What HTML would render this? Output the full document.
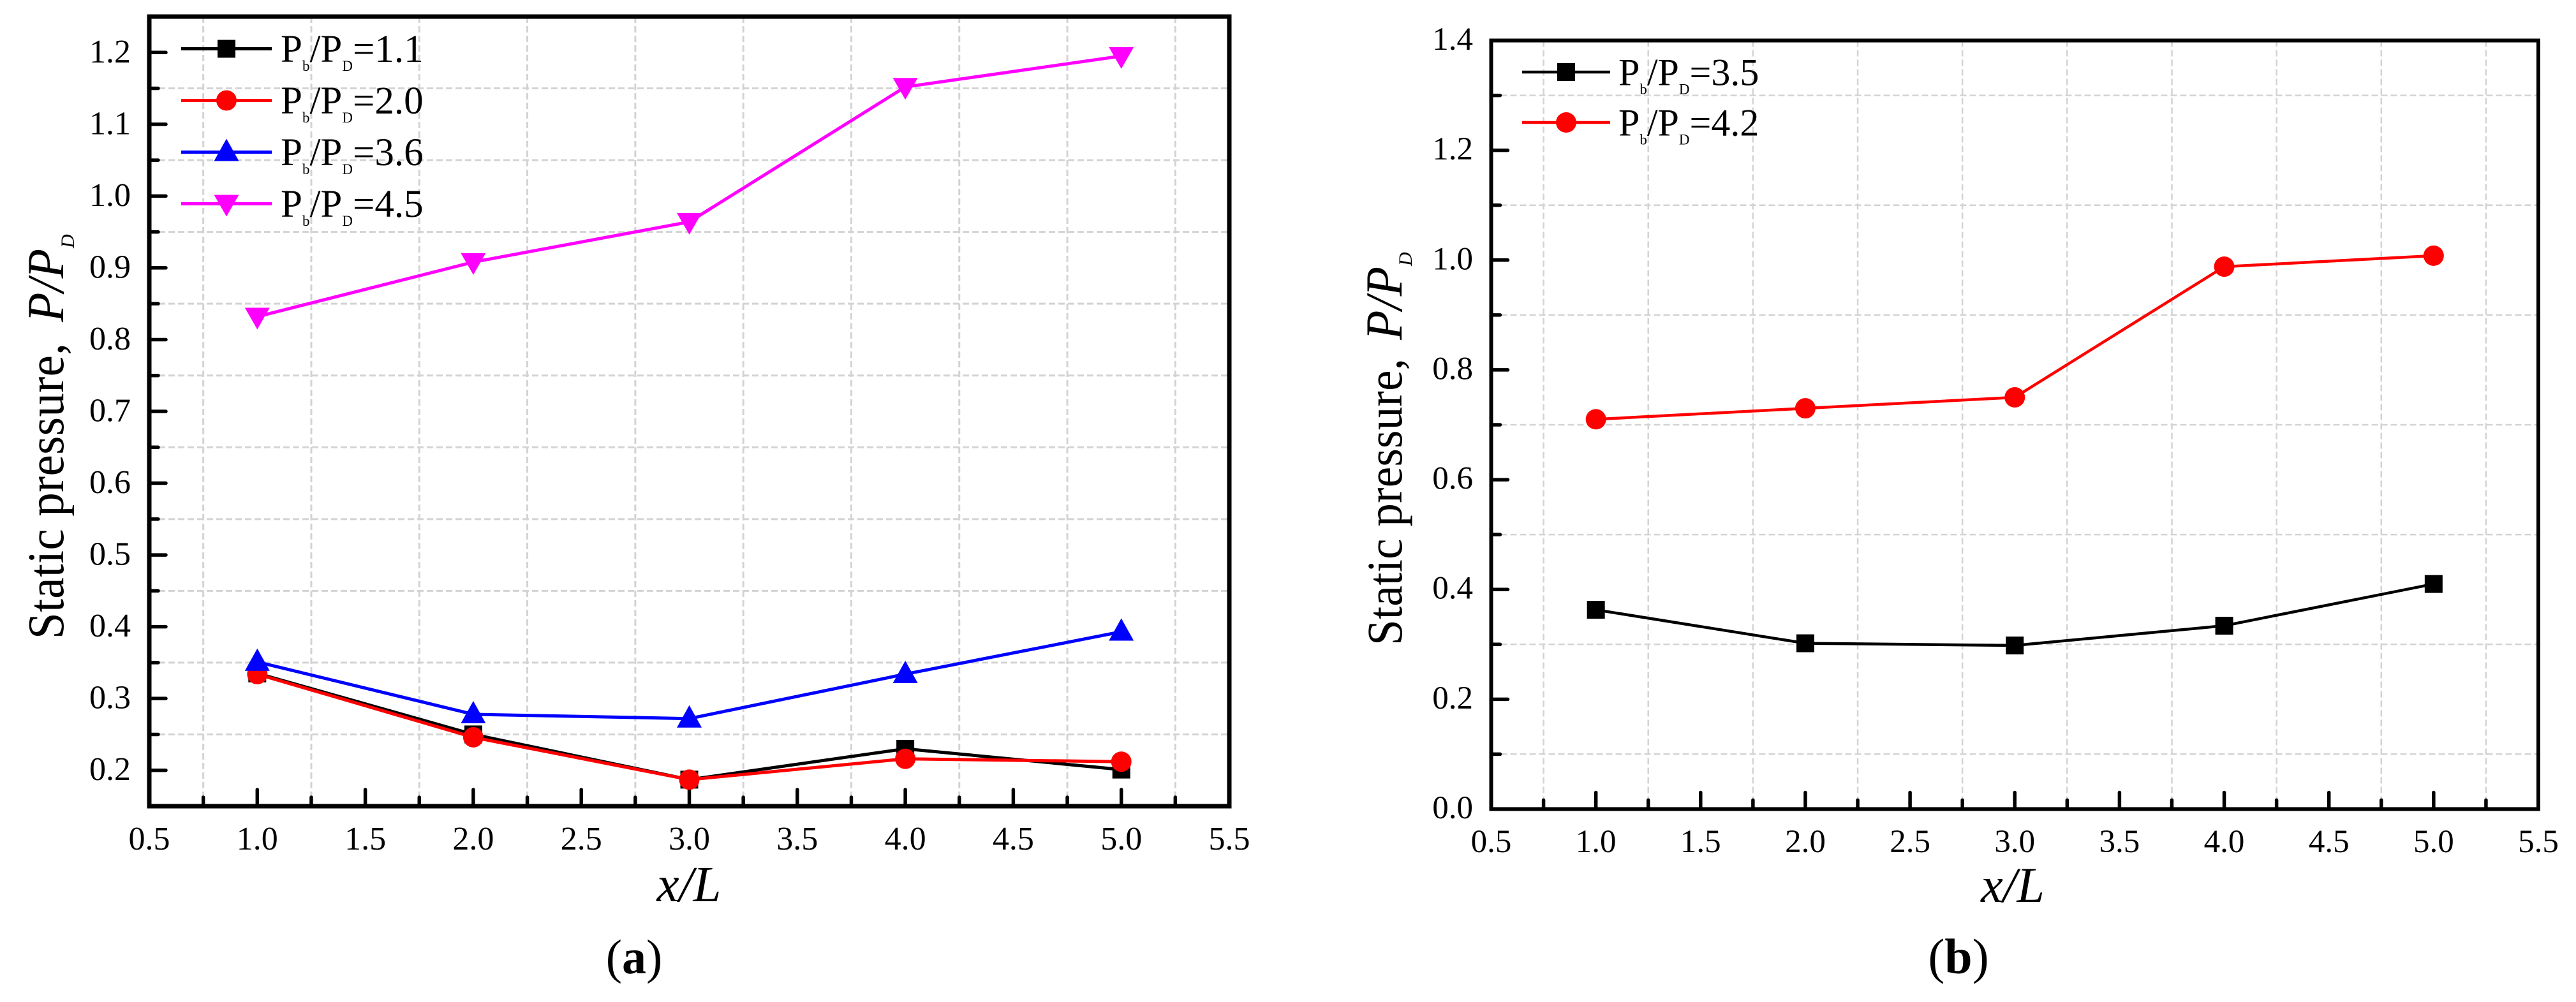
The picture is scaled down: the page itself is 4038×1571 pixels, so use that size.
<!DOCTYPE html>
<html lang="en">
<head>
<meta charset="utf-8">
<title>Static pressure along x/L</title>
<style>
html,body{margin:0;padding:0;background:#fff;}
svg{display:block;}
text{font-family:"Liberation Serif","Times New Roman",serif;fill:#000;}
</style>
</head>
<body>
<svg id="figure" xmlns="http://www.w3.org/2000/svg" width="4038" height="1571" viewBox="0 0 4038 1571">
  <rect x="0" y="0" width="4038" height="1571" fill="#fff"/>
  <g id="panel-a"></g>
  <g id="panel-b"></g>

  <g>
    <text transform="translate(99 1002) rotate(-90) scale(1 1.08)" font-size="75" textLength="464" lengthAdjust="spacing">Static pressure,</text>
    <text transform="translate(99 505) rotate(-90) scale(1 1.08)" font-size="76" font-style="italic" textLength="115" lengthAdjust="spacing">P/P</text>
    <text transform="translate(116 389) rotate(-90)" font-size="30" font-style="italic">D</text>
  </g>
  <text x="1080" y="1413" text-anchor="middle" font-size="79" font-style="italic">x/L</text>
  <text x="994" y="1526" text-anchor="middle" font-size="76">(<tspan font-weight="bold">a</tspan>)</text>

  <g>
    <text transform="translate(2197 1012) rotate(-90) scale(1 1.08)" font-size="73" textLength="450" lengthAdjust="spacing">Static pressure,</text>
    <text transform="translate(2197 533) rotate(-90) scale(1 1.08)" font-size="76" font-style="italic" textLength="115" lengthAdjust="spacing">P/P</text>
    <text transform="translate(2213 417) rotate(-90)" font-size="30" font-style="italic">D</text>
  </g>
  <text x="3155" y="1414" text-anchor="middle" font-size="78" font-style="italic">x/L</text>
  <text x="3070" y="1526" text-anchor="middle" font-size="78">(<tspan font-weight="bold">b</tspan>)</text>
</svg>
<script>
// ---- data: panel (a) ----
const xCategoriesA = [1, 2, 3, 4, 5];
const pressureA11 = [0.335, 0.250, 0.187, 0.230, 0.201];
const pressureA20 = [0.334, 0.246, 0.187, 0.216, 0.212];
const pressureA36 = [0.351, 0.278, 0.272, 0.334, 0.393];
const pressureA45 = [0.832, 0.908, 0.964, 1.152, 1.195];
const xTickLabelsA = ['0.5','1.0','1.5','2.0','2.5','3.0','3.5','4.0','4.5','5.0','5.5'];
const yTickLabelsA = ['0.2','0.3','0.4','0.5','0.6','0.7','0.8','0.9','1.0','1.1','1.2'];
const legendLabelsA = ['1.1','2.0','3.6','4.5'];

// ---- data: panel (b) ----
const xCategoriesB = [1, 2, 3, 4, 5];
const pressureB35 = [0.363, 0.302, 0.298, 0.334, 0.410];
const pressureB42 = [0.710, 0.730, 0.750, 0.988, 1.008];
const xTickLabelsB = ['0.5','1.0','1.5','2.0','2.5','3.0','3.5','4.0','4.5','5.0','5.5'];
const yTickLabelsB = ['0.0','0.2','0.4','0.6','0.8','1.0','1.2','1.4'];
const legendLabelsB = ['3.5','4.2'];

const SVGNS = 'http://www.w3.org/2000/svg';
function make(tag, attrs, parent) {
  const el = document.createElementNS(SVGNS, tag);
  for (const k in attrs) el.setAttribute(k, attrs[k]);
  parent.appendChild(el);
  return el;
}

function drawMarker(parent, shape, x, y, color) {
  let m;
  if (shape === 'square') {
    m = make('rect', {x: x - 14, y: y - 14, width: 28, height: 28, fill: color}, parent);
  } else if (shape === 'circle') {
    m = make('circle', {cx: x, cy: y, r: 16, fill: color}, parent);
  } else if (shape === 'up') {
    m = make('polygon', {points: (x) + ',' + (y - 21) + ' ' + (x + 19.5) + ',' + (y + 14) + ' ' + (x - 19.5) + ',' + (y + 14), fill: color}, parent);
  } else {
    m = make('polygon', {points: (x - 19.5) + ',' + (y - 14) + ' ' + (x + 19.5) + ',' + (y - 14) + ' ' + (x) + ',' + (y + 20), fill: color}, parent);
  }
  return m;
}

function drawPanel(cfg) {
  const root = document.getElementById(cfg.id);
  const xScale = v => cfg.left + (v - cfg.xMin) / (cfg.xMax - cfg.xMin) * (cfg.right - cfg.left);
  const yScale = v => cfg.bottom - (v - cfg.yMin) / (cfg.yMax - cfg.yMin) * (cfg.bottom - cfg.top);

  // grid lines at the half-way positions between labelled ticks
  cfg.xLabels.forEach(function (lab) {
    const v = parseFloat(lab) + cfg.xMinorStep;
    if (v >= cfg.xMax) return;
    const px = xScale(v);
    const g = make('line', {x1: px, x2: px, y1: cfg.top, y2: cfg.bottom, stroke: '#d3d3d3', 'stroke-width': cfg.gridWidth, 'stroke-dasharray': '10 5'}, root);
    
    
  });
  cfg.yLabels.forEach(function (lab) {
    const v = parseFloat(lab) + cfg.yMinorStep;
    if (v >= cfg.yMax) return;
    const py = yScale(v);
    const g = make('line', {x1: cfg.left, x2: cfg.right, y1: py, y2: py, stroke: '#d3d3d3', 'stroke-width': cfg.gridWidth, 'stroke-dasharray': '10 5'}, root);
    
    
  });

  // ticks and tick labels
  cfg.xLabels.forEach(function (lab) {
    const v = parseFloat(lab);
    const px = xScale(v);
    if (v > cfg.xMin && v < cfg.xMax) {
      const t = make('line', {x1: px, x2: px, y1: cfg.bottom, y2: cfg.bottom - 26, stroke: '#000', 'stroke-width': 5.5, 'stroke-linecap': 'round'}, root);
      
      
    }
    const mv = v + cfg.xMinorStep;
    if (mv < cfg.xMax) {
      const mt = make('line', {x1: xScale(mv), x2: xScale(mv), y1: cfg.bottom, y2: cfg.bottom - 14, stroke: '#000', 'stroke-width': 5.5, 'stroke-linecap': 'round'}, root);
      
      
    }
    const tx = make('text', {x: px, y: cfg.xLabelY, 'text-anchor': 'middle', 'font-size': cfg.tickFont}, root);
    
    
    tx.textContent = lab;
  });
  cfg.yLabels.forEach(function (lab) {
    const v = parseFloat(lab);
    const py = yScale(v);
    if (v > cfg.yMin && v < cfg.yMax) {
      const t = make('line', {x1: cfg.left, x2: cfg.left + 26, y1: py, y2: py, stroke: '#000', 'stroke-width': 5.5, 'stroke-linecap': 'round'}, root);
      
      
    }
    const mv = v + cfg.yMinorStep;
    if (mv < cfg.yMax) {
      const mt = make('line', {x1: cfg.left, x2: cfg.left + 14, y1: yScale(mv), y2: yScale(mv), stroke: '#000', 'stroke-width': 5.5, 'stroke-linecap': 'round'}, root);
      
      
    }
    const ty = make('text', {x: cfg.yLabelX, y: py + cfg.yLabelDy, 'text-anchor': 'end', 'font-size': cfg.tickFont}, root);
    
    
    ty.textContent = lab;
  });

  // plot frame
  const frame = make('rect', {x: cfg.left, y: cfg.top, width: cfg.right - cfg.left, height: cfg.bottom - cfg.top, fill: 'none', stroke: '#000', 'stroke-width': cfg.frameWidth}, root);
  
  

  // series
  cfg.series.forEach(function (s, idx) {
    const group = make('g', {}, root);
    
    
    const pts = s.values.map((val, i) => xScale(cfg.categories[i]) + ',' + yScale(val)).join(' ');
    const line = make('polyline', {points: pts, fill: 'none', stroke: s.color, 'stroke-width': cfg.lineWidth, 'stroke-linejoin': 'round'}, group);
    
    
    s.values.forEach(function (val, i) {
      const m = drawMarker(group, s.shape, xScale(cfg.categories[i]), yScale(val), s.color);
      
      
    });

    // legend entry
    const ly = cfg.legendY + idx * cfg.legendStep;
    const entry = make('g', {}, root);
    
    
    const sw = make('line', {x1: cfg.legendX1, x2: cfg.legendX2, y1: ly, y2: ly, stroke: s.color, 'stroke-width': cfg.lineWidth}, entry);
    
    
    const lm = drawMarker(entry, s.shape, (cfg.legendX1 + cfg.legendX2) / 2, ly, s.color);
    
    
    const lt = make('text', {x: cfg.legendTextX, y: ly + cfg.legendBaseDy, 'font-size': cfg.legendFont}, entry);
    
    
    lt.innerHTML = 'P<tspan font-size="23" dy="14">b</tspan><tspan dy="-14">/P</tspan><tspan font-size="23" dy="14">D</tspan><tspan dy="-14">=' + s.label + '</tspan>';
  });
}

drawPanel({
  id: 'panel-a', left: 234, right: 1927, top: 26, bottom: 1264,
  xMin: 0.5, xMax: 5.5, yMin: 0.15, yMax: 1.25,
  xMinorStep: 0.25, yMinorStep: 0.05,
  gridWidth: 3, frameWidth: 7, lineWidth: 5, tickFont: 52,
  xLabels: xTickLabelsA, yLabels: yTickLabelsA, categories: xCategoriesA,
  xLabelY: 1332, yLabelX: 205, yLabelDy: 15.5,
  legendY: 76.5, legendStep: 81, legendX1: 284, legendX2: 426, legendTextX: 440, legendBaseDy: 20.5, legendFont: 61,
  series: [
    {slug: 'pb-pd-1-1', label: legendLabelsA[0], values: pressureA11, color: '#000000', shape: 'square'},
    {slug: 'pb-pd-2-0', label: legendLabelsA[1], values: pressureA20, color: '#ff0000', shape: 'circle'},
    {slug: 'pb-pd-3-6', label: legendLabelsA[2], values: pressureA36, color: '#0000ff', shape: 'up'},
    {slug: 'pb-pd-4-5', label: legendLabelsA[3], values: pressureA45, color: '#ff00ff', shape: 'down'}
  ]
});

drawPanel({
  id: 'panel-b', left: 2337.5, right: 3979, top: 63.5, bottom: 1268.5,
  xMin: 0.5, xMax: 5.5, yMin: 0, yMax: 1.4,
  xMinorStep: 0.25, yMinorStep: 0.1,
  gridWidth: 2.5, frameWidth: 6, lineWidth: 4.5, tickFont: 51,
  xLabels: xTickLabelsB, yLabels: yTickLabelsB, categories: xCategoriesB,
  xLabelY: 1336, yLabelX: 2309, yLabelDy: 14.5,
  legendY: 113, legendStep: 79, legendX1: 2386, legendX2: 2524, legendTextX: 2537, legendBaseDy: 20.5, legendFont: 60,
  series: [
    {slug: 'pb-pd-3-5', label: legendLabelsB[0], values: pressureB35, color: '#000000', shape: 'square'},
    {slug: 'pb-pd-4-2', label: legendLabelsB[1], values: pressureB42, color: '#ff0000', shape: 'circle'}
  ]
});
</script>
</body>
</html>
